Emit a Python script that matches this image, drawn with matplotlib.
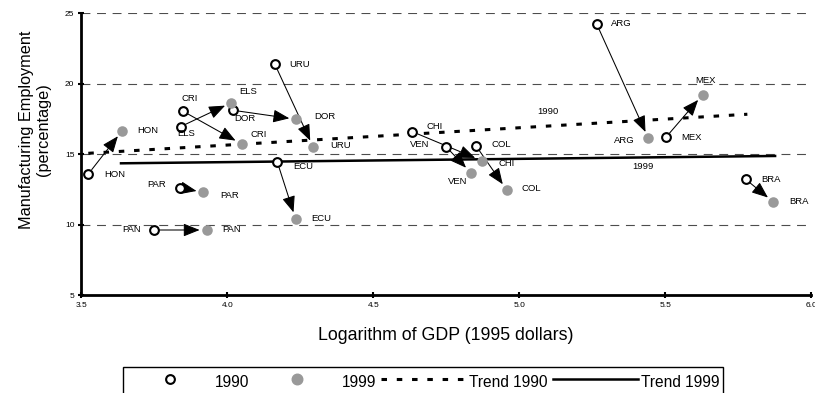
"""Manufacturing employment vs log GDP, 1990 -> 1999, Latin America."""
import matplotlib
matplotlib.use("Agg")
import matplotlib.pyplot as plt
from matplotlib.lines import Line2D

plt.rcParams["font.family"] = ["Liberation Sans", "DejaVu Sans"]

countries = ["HON", "CRI", "ELS", "DOR", "URU", "ECU", "PAR",
             "PAN", "CHI", "VEN", "COL", "ARG", "MEX", "BRA"]
gdp_1990 = [3.524, 3.847, 3.840, 4.020, 4.163, 4.171, 3.838,
            3.749, 4.634, 4.749, 4.852, 5.265, 5.502, 5.775]
emp_1990 = [13.58, 18.05, 16.94, 18.10, 21.36, 14.45, 12.61,
            9.61, 16.58, 15.52, 15.57, 24.22, 16.18, 13.21]
gdp_1999 = [3.640, 4.049, 4.014, 4.236, 4.294, 4.234, 3.918,
            3.929, 4.871, 4.834, 4.957, 5.442, 5.628, 5.870]
emp_1999 = [16.65, 15.71, 18.64, 17.46, 15.50, 10.39, 12.28,
            9.61, 14.53, 13.67, 12.45, 16.11, 19.21, 11.60]

trend90_x = [3.524, 5.781]
trend90_y = [15.05, 17.82]
trend99_x = [3.636, 5.876]
trend99_y = [14.34, 14.86]

x_ticks = [3.5, 4.0, 4.5, 5.0, 5.5, 6.0]
y_ticks = [5, 10, 15, 20, 25]

# label offsets in pixels (dx, dy up)
off_1990 = {"HON": (26, 0), "CRI": (7, 12), "ELS": (6, -7), "DOR": (12, -8),
            "URU": (25, 0), "ECU": (26, -5), "PAR": (-23, 3), "PAN": (-22, 1),
            "CHI": (22, 5), "VEN": (-26, 2), "COL": (25, 1), "ARG": (25, 0),
            "MEX": (26, 0), "BRA": (25, 0)}
off_1999 = {"HON": (26, 0), "CRI": (17, 9), "ELS": (17, 11), "DOR": (29, 3),
            "URU": (27, 1), "ECU": (26, 1), "PAR": (26, -3), "PAN": (25, 1),
            "CHI": (25, -3), "VEN": (-13, -9), "COL": (25, 1), "ARG": (-24, -2),
            "MEX": (3, 14), "BRA": (26, 0)}

GRAY = "#999999"
fig = plt.figure(figsize=(8.15, 3.93), dpi=100, facecolor="white")
ax = fig.add_axes([0.09975, 0.24936, 0.89571, 0.71756])

for yv in y_ticks[1:]:
    gl, = ax.plot([3.5, 6.0], [yv, yv], color="#4d4d4d", lw=0.8, zorder=1)
    gl.set_dashes((8, 6))

t90, = ax.plot(trend90_x, trend90_y, color="black", lw=2.2, zorder=2)
t90.set_dashes((1.8, 3.2))
ax.plot(trend99_x, trend99_y, color="black", lw=1.8, zorder=2)

for i, c in enumerate(countries):
    ax.annotate("", xy=(gdp_1999[i], emp_1999[i]), xytext=(gdp_1990[i], emp_1990[i]),
                arrowprops=dict(arrowstyle="-|>,head_length=1.0,head_width=0.4",
                                mutation_scale=10, lw=0.75, color="black",
                                shrinkA=4, shrinkB=5), zorder=3)

ax.plot(gdp_1990, emp_1990, "o", ls="none", mfc="white", mec="black",
        ms=6.3, mew=1.5, zorder=4)
ax.plot(gdp_1999, emp_1999, "o", ls="none", mfc=GRAY, mec=GRAY,
        ms=7.6, mew=0, zorder=4)

for i, c in enumerate(countries):
    ax.annotate(c, (gdp_1990[i], emp_1990[i]), xytext=off_1990[c],
                textcoords="offset pixels", ha="center", va="center",
                fontsize=6.8, zorder=5)
    ax.annotate(c, (gdp_1999[i], emp_1999[i]), xytext=off_1999[c],
                textcoords="offset pixels", ha="center", va="center",
                fontsize=6.8, zorder=5)

ax.text(5.098, 17.98, "1990", fontsize=6.8, ha="center", va="center")
ax.text(5.423, 14.1, "1999", fontsize=6.8, ha="center", va="center")

ax.set_xlim(3.5, 6.0)
ax.set_ylim(5, 25)
ax.set_xticks(x_ticks)
ax.set_xticklabels([f"{v:.1f}" for v in x_ticks])
ax.set_yticks(y_ticks)
ax.tick_params(direction="inout", length=4, width=1.5, labelsize=6, pad=3)
for s in ["top", "right"]:
    ax.spines[s].set_visible(False)
for s in ["left", "bottom"]:
    ax.spines[s].set_linewidth(2)

fig.text(446 / 815, 1 - 335 / 393, "Logarithm of GDP (1995 dollars)",
         fontsize=12.8, ha="center", va="center")
fig.text(35 / 815, 1 - 130 / 393, "Manufacturing Employment\n(percentage)",
         fontsize=11.7, rotation=90, ha="center", va="center",
         multialignment="center")

h_90 = Line2D([], [], marker="o", ls="none", mfc="white", mec="black",
              ms=6.3, mew=1.5)
h_99 = Line2D([], [], marker="o", ls="none", mfc=GRAY, mec=GRAY, ms=7.6)
h_t90 = Line2D([], [], color="black", lw=2.2)
h_t90.set_dashes((1.8, 3.2))
h_t99 = Line2D([], [], color="black", lw=1.8)
leg = fig.legend([h_90, h_99, h_t90, h_t99],
                 ["1990", "1999", "Trend 1990", "Trend 1999"],
                 loc="center", bbox_to_anchor=(423 / 815, 1 - 381.7 / 393),
                 ncol=4, fontsize=11.2, frameon=True, fancybox=False,
                 handlelength=5.52, handletextpad=0.15, columnspacing=0.3,
                 handleheight=1.7, borderpad=0.25, edgecolor="black",
                 framealpha=1)
leg.get_frame().set_linewidth(1)

fig.savefig("out.png", dpi=100, facecolor="white")
